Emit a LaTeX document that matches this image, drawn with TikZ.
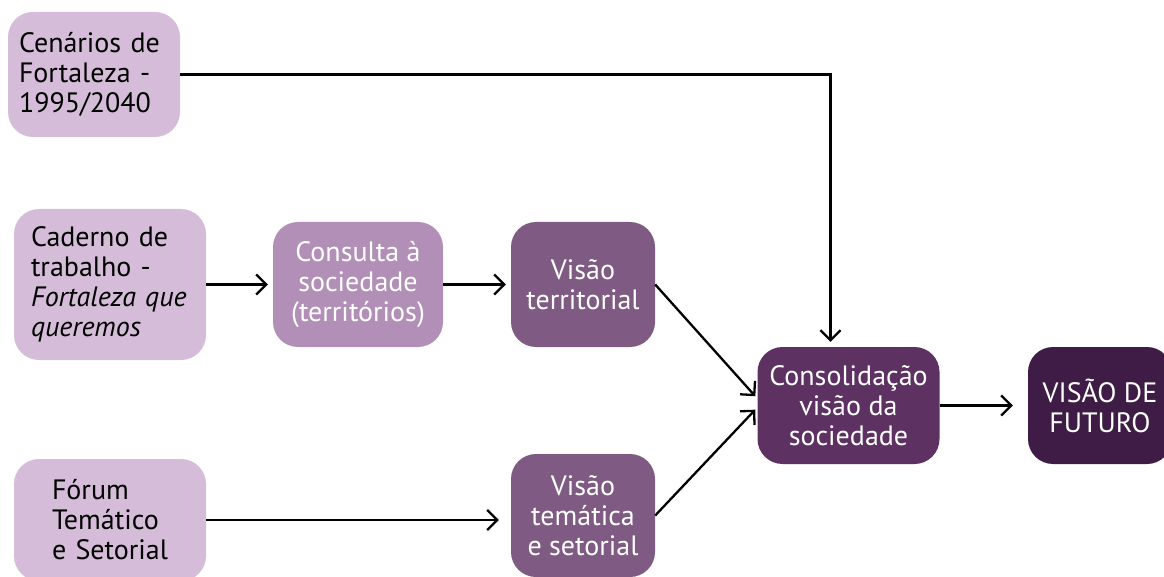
\documentclass[tikz,border=0pt]{standalone}
\usepackage{fontspec}
\setmainfont{PT Sans}
\usetikzlibrary{arrows.meta}

\definecolor{lilacA}{RGB}{213,188,217}
\definecolor{lilacB}{RGB}{178,143,183}
\definecolor{plumA}{RGB}{127,91,131}
\definecolor{plumB}{RGB}{94,49,99}
\definecolor{plumC}{RGB}{63,28,69}
\def\fsize{\fontsize{28}{30}\selectfont}

\begin{document}
\begin{tikzpicture}[x=1pt, y=-1pt,
    box/.style={rounded corners=25pt, inner sep=0pt, anchor=center, font=\fsize, align=center},
    inbox/.style={box, fill=lilacA, text=black, align=left},
    flow/.style={line width=2.3pt, -{Straight Barb[length=10pt,width=20pt]}, shorten >=5pt}]
  \useasboundingbox (0,0) rectangle (1164,577);
  % sources
  \node[inbox, minimum width=172pt, minimum height=125pt, text width=150pt] (cenarios) at (94,74.5) {Cenários de\\Fortaleza -\\1995/2040};
  \node[inbox, minimum width=192pt, minimum height=151pt, text width=158pt] (caderno) at (110,284.5) {Caderno de\\trabalho -\\\textit{Fortaleza que}\\\textit{queremos}};
  \node[inbox, minimum width=192pt, minimum height=122pt, text width=116pt] (forum) at (110,520) {Fórum\\Temático\\e Setorial};
  % steps
  \node[box, fill=lilacB, text=white, minimum width=170pt, minimum height=125pt] (consulta) at (358,284.5) {Consulta à\\sociedade\\(territórios)};
  \node[box, fill=plumA, text=white, minimum width=144pt, minimum height=125pt] (vterr) at (583,284.5) {Visão\\territorial};
  \node[box, fill=plumA, text=white, minimum width=144pt, minimum height=123pt] (vtem) at (583,515.5) {Visão\\temática\\e setorial};
  \node[box, fill=plumB, text=white, minimum width=182pt, minimum height=117pt] (consol) at (848.5,405.5) {Consolidação\\visão da\\sociedade};
  \node[box, fill=plumC, text=white, minimum width=144pt, minimum height=117pt] (futuro) at (1100,405.5) {VISÃO DE\\FUTURO};
  % connectors
  \draw[flow] (cenarios.east) -| ([xshift=-18pt]consol.north);
  \draw[flow] (caderno) -- (consulta);
  \draw[flow] (consulta) -- (vterr);
  \draw[flow, shorten >=12pt] (forum.east) -- (forum.east -| vtem.west);
  \draw[flow, shorten >=3pt] (vterr.east) -- ([yshift=7pt]consol.west);
  \draw[flow, shorten >=3pt] (vtem.east) -- ([yshift=-2pt]consol.west);
  \draw[flow, shorten >=15pt] (consol) -- (futuro);
\end{tikzpicture}
\end{document}
